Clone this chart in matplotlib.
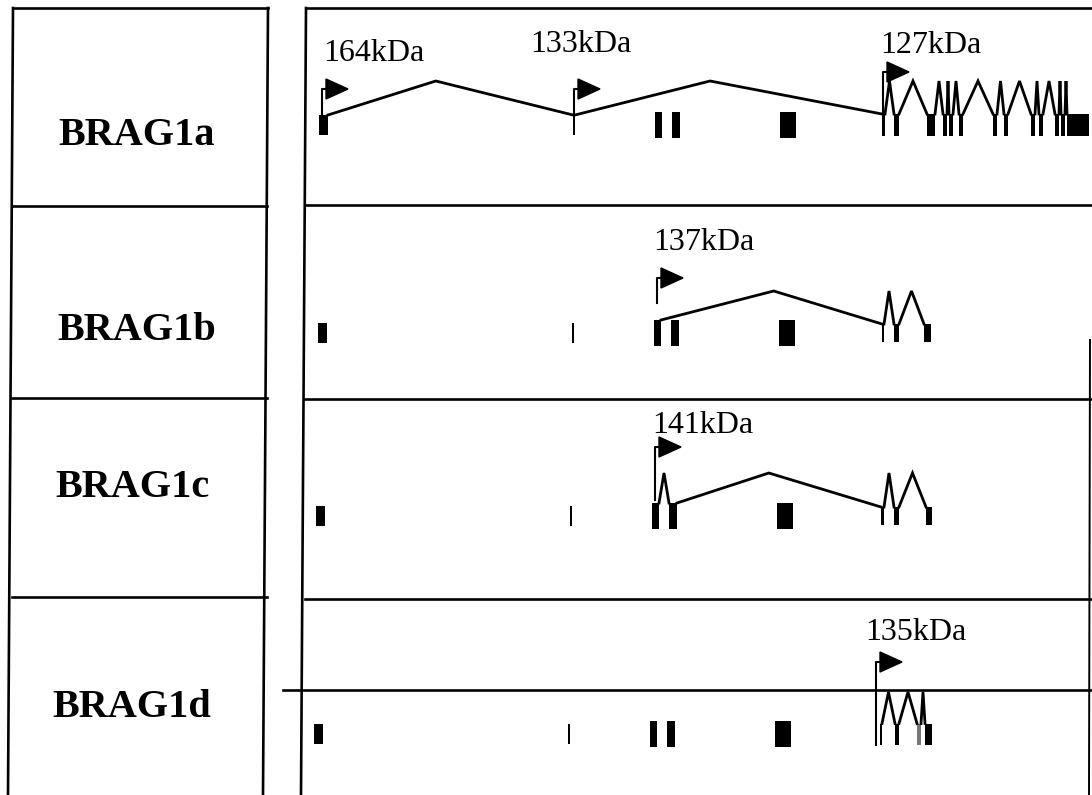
import numpy as np
import matplotlib
matplotlib.use('Agg')
import matplotlib.pyplot as plt
from matplotlib.patches import Rectangle, Polygon

# isoform names and label positions (baseline)
row_names = ['BRAG1a', 'BRAG1b', 'BRAG1c', 'BRAG1d']
name_x = [137, 137, 132, 132]
name_y = [145, 340, 497, 717]

# centre line of each isoform track
row_y = [125, 333, 516, 734]

# shared 5' exons (start, width, height) as seen in every track
head_start = [319, 573, 655, 672, 780]
head_width = [9, 2, 7, 8, 16]
head_height = [20, 20, 26, 26, 26]
row_shift = [0, -1, -3, -5]

# 3' exon clusters per track
clus_start = [
    [882, 894, 927, 943, 949, 959, 993, 1004, 1031, 1039, 1055, 1061, 1067],
    [882, 894, 924],
    [881, 894, 926],
    [880, 895, 917, 925],
]
clus_width = [
    [3, 5, 8, 4, 4, 4, 4, 4, 4, 4, 4, 4, 22],
    [2, 5, 7],
    [3, 5, 6],
    [2, 4, 4, 7],
]
clus_height = [22, 18, 18, 21]

# exons joined by introns in each transcript (index in head+cluster list)
paths = [
    [0, 1] + list(range(5, 18)),
    [2, 5, 6, 7],
    [2, 3, 5, 6, 7],
    [5, 6, 7, 8],
]
peak_y = [81, 291, 473, 692]
# where the apex of a long intron sits between its two exons
peak_frac = [0.44, 0.51, 0.45, 0.5]

# start sites: stem x, stem bottom, stem top, label, label x, label baseline
flag_x = [322, 574, 883, 657, 655, 876]
flag_bottom = [115, 113, 113, 303, 500, 745]
flag_top = [89, 89, 72, 278, 447, 662]
kda_labels = ['164kDa', '133kDa', '127kDa', '137kDa', '141kDa', '135kDa']
kda_x = [323, 530, 880, 653, 652, 865]
kda_y = [61, 52, 53, 250, 433, 640]

fig = plt.figure(figsize=(10.92, 7.95), dpi=100)
ax = fig.add_axes([0, 0, 1, 1])
ax.set_xlim(0, 1092)
ax.set_ylim(795, 0)
ax.axis('off')

lw = 1.9
k = 'black'

# left table frame
ax.plot([13, 268], [8, 8], color=k, lw=lw)
ax.plot([13, 8], [8, 795], color=k, lw=lw)
ax.plot([268, 263], [8, 795], color=k, lw=lw)
for y in [206, 398, 597]:
    ax.plot([12, 267], [y, y], color=k, lw=lw)

# right panel frame
ax.plot([306, 1092], [8, 8], color=k, lw=lw)
ax.plot([306, 301], [8, 795], color=k, lw=lw)
for y in [205, 399, 599]:
    ax.plot([305, 1092], [y, y], color=k, lw=lw)
ax.plot([283, 1092], [690, 690], color=k, lw=lw)
ax.plot([1090, 1089], [340, 795], color=k, lw=1.4)

for name, x, y in zip(row_names, name_x, name_y):
    ax.text(x, y, name, ha='center', va='baseline', fontsize=29,
            fontweight='bold', family='Liberation Serif')

for r in range(4):
    xs = [s + row_shift[r] for s in head_start] + clus_start[r]
    ws = head_width + clus_width[r]
    hs = head_height + [clus_height[r]] * len(clus_start[r])
    for i, (x0, w, h) in enumerate(zip(xs, ws, hs)):
        fc = '#777777' if (r == 3 and i == 7) else k
        ax.add_patch(Rectangle((x0, row_y[r] - h / 2), w, h, fc=fc, ec='none'))
    p = paths[r]
    for a, b in zip(p[:-1], p[1:]):
        xa = xs[a] + ws[a]
        ya = row_y[r] - hs[a] / 2
        xb = xs[b]
        yb = row_y[r] - hs[b] / 2
        f = peak_frac[r] if xb - xa > 60 else 0.5
        xm = xa + f * (xb - xa)
        ax.plot([xa, xm, xb], [ya, peak_y[r], yb], color=k, lw=2.0,
                solid_joinstyle='miter')

for x, yb, yt in zip(flag_x, flag_bottom, flag_top):
    ax.plot([x, x, x + 5], [yb, yt, yt], color=k, lw=1.5)
    ax.add_patch(Polygon([[x + 4, yt - 10], [x + 4, yt + 10], [x + 26, yt]],
                         closed=True, fc=k, ec=k))

for t, x, y in zip(kda_labels, kda_x, kda_y):
    ax.text(x, y, t, ha='left', va='baseline', fontsize=23,
            family='Liberation Serif')

plt.savefig('out.png', dpi=100)
